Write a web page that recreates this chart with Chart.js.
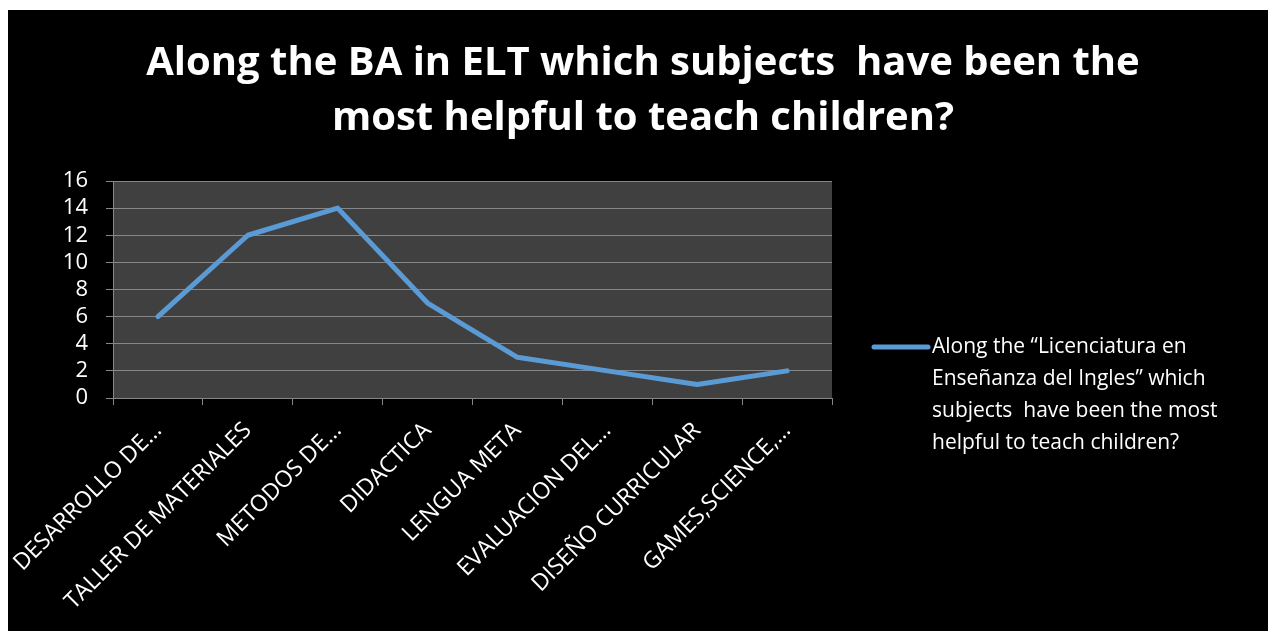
<!DOCTYPE html>
<html>
<head>
<meta charset="utf-8">
<script src="https://cdn.jsdelivr.net/npm/chart.js@4"></script>
<style>
  html, body { margin: 0; padding: 0; background: #ffffff; width: 1268px; height: 631px; overflow: hidden; }
  #wrap { position: absolute; left: 8px; top: 10px; width: 1260px; height: 621px; background: #000000; }
</style>
</head>
<body>
<div id="wrap"><canvas id="c" width="1260" height="621"></canvas></div>
<script>
const titleLines = ["Along the BA in ELT which subjects  have been the", "most helpful to teach children?"];
const categories = ["DESARROLLO DE…", "TALLER DE MATERIALES", "METODOS DE…", "DIDACTICA", "LENGUA META", "EVALUACION DEL…", "DISEÑO CURRICULAR", "GAMES,SCIENCE,…"];
const seriesValues = [6, 12, 14, 7, 3, 2, 1, 2];
const legendLines = ["Along the \u201CLicenciatura en", "Enseñanza del Ingles\u201D which", "subjects  have been the most", "helpful to teach children?"];
const seriesLabel = legendLines.join(" ");
const yTicks = { min: 0, max: 16, step: 2 };

const FONT = "'Open Sans'";
const LINE_COLOR = "#5B9BD5";
const GRID = "#868686";

const plotBg = {
  id: "plotBg",
  beforeDraw(chart) {
    const { ctx, chartArea: a } = chart;
    ctx.save();
    ctx.fillStyle = "#404040";
    ctx.fillRect(a.left, a.top, a.right - a.left, a.bottom - a.top);
    ctx.restore();
  }
};

const bigTitle = {
  id: "bigTitle",
  afterDraw(chart) {
    const { ctx } = chart;
    ctx.save();
    ctx.fillStyle = "#ffffff";
    ctx.font = "bold 40px " + FONT;
    ctx.textAlign = "center";
    ctx.textBaseline = "alphabetic";
    titleLines.forEach((t, i) => ctx.fillText(t, 635, 65 + i * 55));
    ctx.restore();
  }
};

const sideLegend = {
  id: "sideLegend",
  afterDraw(chart) {
    const { ctx } = chart;
    const ds = chart.data.datasets[0];
    const x0 = 866, x1 = 920, tx = 924, y0 = 337, lh = 32;
    ctx.save();
    ctx.strokeStyle = ds.borderColor;
    ctx.lineWidth = 5;
    ctx.lineCap = "round";
    ctx.beginPath();
    ctx.moveTo(x0, y0);
    ctx.lineTo(x1, y0);
    ctx.stroke();
    ctx.fillStyle = "#ffffff";
    ctx.font = "21px " + FONT;
    ctx.textBaseline = "middle";
    ctx.textAlign = "left";
    legendLines.forEach((t, i) => ctx.fillText(t, tx, y0 + i * lh));
    ctx.restore();
  }
};

new Chart(document.getElementById("c"), {
  type: "line",
  data: {
    labels: categories,
    datasets: [{
      label: seriesLabel,
      data: seriesValues,
      borderColor: LINE_COLOR,
      backgroundColor: LINE_COLOR,
      borderWidth: 5,
      borderCapStyle: "round",
      borderJoinStyle: "round",
      pointRadius: 0,
      tension: 0,
      fill: false
    }]
  },
  options: {
    responsive: false,
    animation: false,
    layout: { padding: { left: 0, right: 436, top: 171, bottom: 0 } },
    plugins: {
      legend: { display: false },
      tooltip: { enabled: false },
      title: { display: false }
    },
    scales: {
      x: {
        type: "category",
        offset: true,
        grid: { offset: true, drawOnChartArea: false, drawTicks: true, tickLength: 7, color: GRID, lineWidth: 1 },
        border: { display: true, color: GRID, width: 1 },
        ticks: { color: "#ffffff", font: { family: FONT, size: 23 }, minRotation: 45, maxRotation: 45, autoSkip: false, padding: 12 },
        afterFit(s) { s.height = 233; s.paddingLeft = 0; s.paddingRight = 0; }
      },
      y: {
        min: yTicks.min,
        max: yTicks.max,
        grid: { color: GRID, lineWidth: 1, tickLength: 7, drawTicks: true },
        border: { display: true, color: GRID, width: 1 },
        ticks: { stepSize: yTicks.step, autoSkip: false, color: "#ffffff", font: { family: FONT, size: 22 }, padding: 18 },
        afterFit(s) { s.width = 105; s.paddingTop = 0; s.paddingBottom = 0; }
      }
    }
  },
  plugins: [plotBg, bigTitle, sideLegend]
});
</script>
</body>
</html>
